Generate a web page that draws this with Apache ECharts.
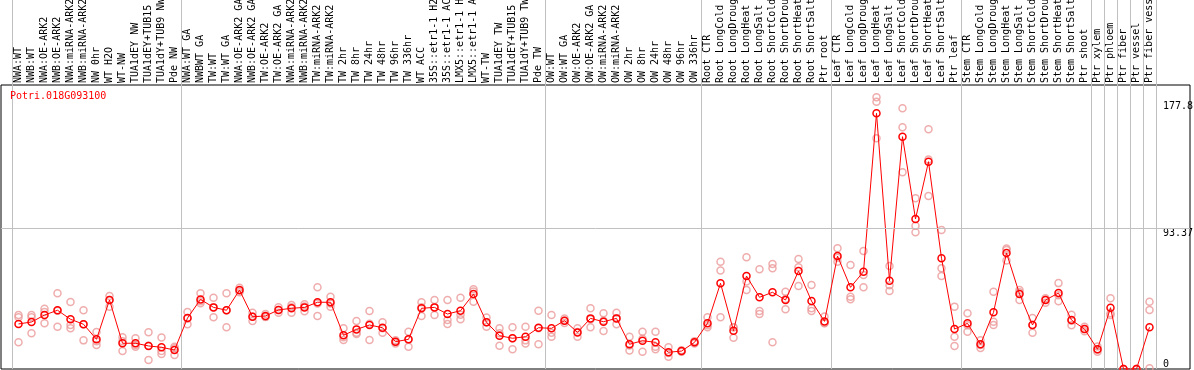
<!DOCTYPE html>
<html><head><meta charset="utf-8">
<script src="https://cdn.jsdelivr.net/npm/echarts@6/dist/echarts.min.js"></script>
<style>html,body{margin:0;padding:0;background:#fff}#c{width:1194px;height:370px}</style>
</head><body><div id="c"></div>
<script>
const geneId = 'Potri.018G093100';
const categories = [
'NWA:WT','NWB:WT','NWA:OE-ARK2','NWB:OE-ARK2','NWA:miRNA-ARK2','NWB:miRNA-ARK2','NW 0hr','WT H2O','WT-NW','TUA1dEY NW','TUA1dEY+TUB15','TUA1dY+TUB9 NW','Pde NW',
'NWA:WT GA','NWBWT GA','TW:WT','TW:WT GA','NWA:OE-ARK2 GA','NWB:OE-ARK2 GA','TW:OE-ARK2','TW:OE-ARK2 GA','NWA:miRNA-ARK2','NWB:miRNA-ARK2','TW:miRNA-ARK2','TW:miRNA-ARK2','TW 2hr','TW 8hr','TW 24hr','TW 48hr','TW 96hr','TW 336hr','WT ACC','35S::etr1-1 H2O','35S::etr1-1 ACC','LMX5::etr1-1 H2O','LMX5::etr1-1 ACC','WT-TW','TUA1dEY TW','TUA1dEY+TUB15','TUA1dY+TUB9 TW','Pde TW',
'OW:WT','OW:WT GA','OW:OE-ARK2','OW:OE-ARK2 GA','OW:miRNA-ARK2','OW:miRNA-ARK2','OW 2hr','OW 8hr','OW 24hr','OW 48hr','OW 96hr','OW 336hr',
'Root CTR','Root LongCold','Root LongDrought','Root LongHeat','Root LongSalt','Root ShortCold','Root ShortDrought','Root ShortHeat','Root ShortSalt','Ptr root',
'Leaf CTR','Leaf LongCold','Leaf LongDrought','Leaf LongHeat','Leaf LongSalt','Leaf ShortCold','Leaf ShortDrought','Leaf ShortHeat','Leaf ShortSalt','Ptr leaf',
'Stem CTR','Stem LongCold','Stem LongDrought','Stem LongHeat','Stem LongSalt','Stem ShortCold','Stem ShortDrought','Stem ShortHeat','Stem ShortSalt','Ptr shoot',
'Ptr xylem','Ptr phloem','Ptr fiber','Ptr vessel','Ptr fiber vessel'
];
// first category index of each group (separator lines)
const groupStarts = [0,13,41,53,63,73,83,84,85,86,87];
const yTickLabels = [93.37, 177.8];
const yZeroLabel = [0];
const yMax = 188.5;

const means = [
29.9,31.2,35.8,39.0,33.0,29.7,19.7,45.8,17.1,17.1,15.3,14.4,12.6,
33.8,46.2,40.9,39.0,52.4,34.7,35.2,39.2,40.3,40.9,44.3,44.3,22.4,26.3,29.2,27.4,18.1,19.7,40.3,40.9,36.5,38.7,49.8,31.0,22.1,20.4,21.4,27.4,
27.0,32.1,24.3,33.6,31.4,33.6,16.4,18.8,17.7,11.1,11.9,17.7,
30.3,56.9,25.4,61.7,47.6,50.9,45.8,65.0,45.1,31.6,
75.0,54.2,64.6,169.7,58.6,154.2,99.6,137.6,73.5,26.5,
30.3,16.4,37.6,77.0,49.8,29.2,45.8,50.4,32.5,26.5,
13.1,40.7,0,0,27.7
];
const rep1 = [
35.8,35.8,40.0,50.2,44.5,39.0,24.5,48.5,21.0,20.4,24.4,20.9,14.8,
37.8,50.2,47.3,50.2,54.0,37.4,36.5,41.0,42.5,43.0,54.2,48.0,27.0,31.9,38.5,31.0,19.0,24.8,44.3,45.8,45.8,47.3,52.9,34.1,27.0,27.7,28.0,38.7,
35.8,33.5,27.0,40.3,37.0,37.4,21.4,24.8,24.8,14.4,12.5,18.5,
34.3,71.2,27.7,74.1,66.2,69.7,51.3,73.0,55.8,34.8,
80.1,69.0,78.3,180.3,68.4,173.0,113.3,159.1,92.3,41.4,
37.0,19.0,51.3,80.0,52.4,33.9,47.0,57.0,36.0,28.0,
15.0,46.9,0,0,44.7
];
const rep2 = [
34.3,34.3,37.8,38.7,29.2,29.7,18.5,45.8,18.5,16.0,15.5,12.0,13.7,
33.5,45.0,41.0,39.0,52.0,34.8,34.6,39.2,41.0,41.5,43.5,43.5,21.0,24.0,30.0,27.0,18.0,19.5,41.0,41.0,32.5,36.0,51.5,31.0,23.8,20.4,19.0,27.0,
24.0,32.0,24.5,33.0,32.0,33.7,15.6,20.0,14.8,10.7,11.8,17.6,
29.0,65.3,27.7,58.0,38.5,66.8,46.5,67.5,40.3,30.5,
73.8,48.0,62.4,177.4,55.6,160.4,95.1,139.0,66.8,21.4,
29.0,16.0,31.4,79.0,51.0,29.0,46.0,49.0,32.0,26.5,
12.8,37.0,0,0,39.2
];
const rep3 = [
17.7,23.7,30.3,28.1,27.0,19.0,16.0,41.4,12.0,14.8,6.0,10.0,9.3,
29.7,43.6,34.3,27.7,51.0,31.9,34.5,37.4,37.4,38.3,35.2,41.4,19.2,23.2,19.2,24.0,17.0,14.8,35.2,35.8,29.9,33.0,44.7,28.1,15.5,13.1,17.0,16.4,
21.4,30.5,21.4,27.7,25.2,29.7,12.2,11.5,13.1,8.2,11.5,17.0,
27.7,34.3,20.8,52.4,36.5,17.7,39.6,55.1,38.5,30.4,
71.2,46.3,54.2,153.1,51.8,130.6,90.7,114.8,61.7,15.3,
24.8,14.0,29.2,72.0,45.8,24.0,44.0,45.0,29.0,25.0,
11.5,35.8,0,0,0.5
];

const FONT = 'DejaVu Sans Mono';
const repData = [];
[rep1, rep2, rep3].forEach(r => r.forEach((v, i) => repData.push([i, v])));

const chart = echarts.init(document.getElementById('c'), null, {renderer: 'canvas'});
chart.setOption({
  animation: false,
  backgroundColor: '#fff',
  title: {
    text: geneId, left: 10, top: 91, padding: 0,
    textStyle: {color: '#ff0000', fontFamily: FONT, fontSize: 10, fontWeight: 'normal'}
  },
  grid: [
    {left: 12, right: 38, top: 85, bottom: 1, outerBoundsMode: 'none', containLabel: false},
    {left: 12, right: 38, top: 0, bottom: 1, outerBoundsMode: 'none', containLabel: false},
    {left: 1, right: 4, top: 85, bottom: 1, outerBoundsMode: 'none', containLabel: false, show: true, borderColor: '#000', borderWidth: 1, backgroundColor: 'transparent'}
  ],
  xAxis: [
    {
      type: 'category', gridIndex: 0, position: 'top', data: categories, boundaryGap: true,
      axisLine: {show: false}, axisTick: {show: false}, splitLine: {show: false},
      axisLabel: {interval: 0, rotate: 90, margin: 2, color: '#000', fontFamily: FONT, fontSize: 10, hideOverlap: false}
    },
    {
      type: 'category', gridIndex: 1, data: categories, boundaryGap: true,
      axisLine: {show: false}, axisTick: {show: false}, axisLabel: {show: false},
      splitLine: {show: true, interval: (idx) => groupStarts.indexOf(idx) >= 0, lineStyle: {color: '#c0c0c0', width: 1}}
    },
    {type: 'value', gridIndex: 2, min: 0, max: 1, show: false}
  ],
  yAxis: [
    {
      type: 'value', gridIndex: 0, position: 'right', min: 0, max: yMax,
      axisLine: {show: false}, axisTick: {show: false}, splitLine: {show: false},
      axisLabel: {customValues: yTickLabels, verticalAlign: 'top', margin: 7, color: '#000', fontFamily: FONT, fontSize: 10, formatter: v => String(v)}
    },
    {
      type: 'value', gridIndex: 0, position: 'right', min: 0, max: yMax,
      axisLine: {show: false}, axisTick: {show: false}, splitLine: {show: false},
      axisLabel: {customValues: yZeroLabel, verticalAlign: 'bottom', margin: 7, color: '#000', fontFamily: FONT, fontSize: 10, formatter: v => String(v)}
    },
    {type: 'value', gridIndex: 1, show: false, min: 0, max: 1},
    {type: 'value', gridIndex: 2, show: false, min: 0, max: yMax}
  ],
  series: [
    {
      type: 'line', xAxisIndex: 2, yAxisIndex: 3, data: [], silent: true,
      markLine: {silent: true, symbol: 'none', label: {show: false},
        lineStyle: {color: '#c0c0c0', type: 'solid', width: 1},
        data: [{yAxis: yTickLabels[0]}]}
    },
    {
      type: 'scatter', xAxisIndex: 0, yAxisIndex: 0, data: repData, symbol: 'circle', symbolSize: 7,
      itemStyle: {color: 'rgba(255,255,255,0)', borderColor: '#eb9898', borderWidth: 1.5}, z: 3
    },
    {
      type: 'line', xAxisIndex: 0, yAxisIndex: 0, data: means, symbol: 'circle', symbolSize: 7, showAllSymbol: true,
      lineStyle: {color: '#ff0000', width: 1},
      itemStyle: {color: 'rgba(255,255,255,0)', borderColor: '#ff0000', borderWidth: 1.5}, z: 4
    }
  ]
});
</script></body></html>
